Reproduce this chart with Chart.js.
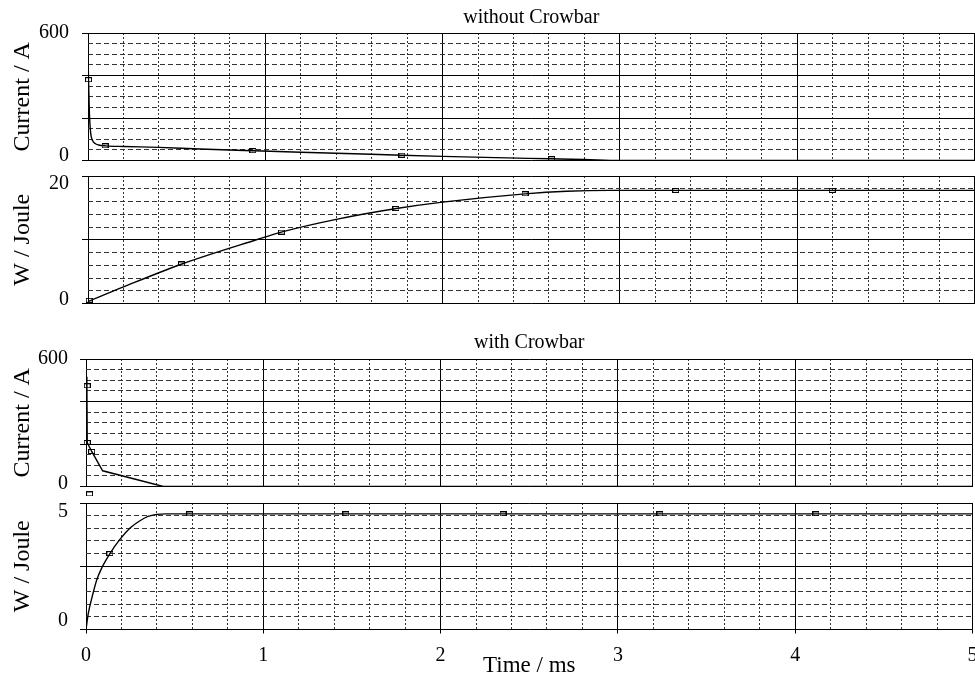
<!DOCTYPE html>
<html><head><meta charset="utf-8">
<script src="https://cdn.jsdelivr.net/npm/chart.js@4.4.1/dist/chart.umd.min.js"></script>
<style>
html,body{margin:0;padding:0;background:#fff;overflow:hidden;width:975px;height:676px;position:relative;}
canvas{position:absolute;left:0;top:0;}
</style></head><body>
<canvas id="c1" width="1000" height="700"></canvas>
<canvas id="c2" width="1000" height="700"></canvas>
<canvas id="c3" width="1000" height="700"></canvas>
<canvas id="c4" width="1000" height="700"></canvas>
<script>
// ---- shared axis data ----
const timeRange = [0, 5];          // ms
const timeLabels = [0, 1, 2, 3, 4, 5];

// ---- panel 1: without Crowbar, current ----
const tCurrentNo = [0, 0.003, 0.008, 0.015, 0.025, 0.04, 0.06, 0.1, 0.2, 0.4, 0.63, 0.93, 1.2, 1.5, 1.77, 2.0, 2.3, 2.61, 2.8, 3.0, 5.0];
const iCurrentNo = [502, 380, 220, 130, 95, 80, 73, 69, 66, 62, 54, 46, 39, 32, 25, 19.5, 13.5, 8, 4.5, 0, 0];
const tCurrentNoMarks = [0.003, 0.096, 0.93, 1.77, 2.615];
const iCurrentNoMarks = [380, 69, 46, 25, 8];

// ---- panel 2: without Crowbar, energy ----
const tEnergyNo = [0, 0.2, 0.53, 0.95, 1.09, 1.4, 1.74, 2.0, 2.465, 2.7, 2.94, 5.0];
const wEnergyNo = [0.3, 2.6, 6.2, 10.0, 11.2, 13.2, 14.9, 15.9, 17.2, 17.6, 17.75, 17.75];
const tEnergyNoMarks = [0.007, 0.528, 1.092, 1.737, 2.465, 3.315, 4.198];
const wEnergyNoMarks = [0.5, 6.2, 11.2, 14.9, 17.2, 17.75, 17.75];

// ---- panel 3: with Crowbar, current ----
const tCurrentCb = [0, 0.005, 0.007, 0.032, 0.094, 0.436, 5.0];
const iCurrentCb = [517, 474, 207, 165, 74, 0, 0];
const tCurrentCbMarks = [0.007, 0.007, 0.032, 0.02];
const iCurrentCbMarks = [474, 207, 165, -35];

// ---- panel 4: with Crowbar, energy ----
const tEnergyCb = [0, 0.013, 0.035, 0.06, 0.09, 0.135, 0.19, 0.25, 0.3, 0.35, 0.4, 0.45, 5.0];
const wEnergyCb = [0, 0.64, 1.3, 1.95, 2.45, 3.0, 3.55, 4.02, 4.28, 4.47, 4.55, 4.57, 4.57];
const tEnergyCbMarks = [0.135, 0.585, 1.466, 2.352, 3.237, 4.117];
const wEnergyCbMarks = [3.0, 4.57, 4.57, 4.57, 4.57, 4.57];

// ---- styling ----
const FONT = "'Liberation Serif', 'Times New Roman', serif";
Chart.defaults.font.family = FONT;
Chart.defaults.color = '#000';

function makeMarker() {
  const c = document.createElement('canvas');
  c.width = 7; c.height = 5;
  const g = c.getContext('2d');
  g.strokeStyle = '#000'; g.lineWidth = 1;
  g.strokeRect(0.5, 0.5, 6, 4);
  return c;
}
const markerImg = makeMarker();

const zip = (xs, ys) => xs.map((x, i) => ({x: x, y: ys[i]}));
const near = (v, step) => Math.abs(v / step - Math.round(v / step)) < 1e-6;
const TICK_SIZE = 20;

function panel(id, cfg) {
  const xMajor = 1, xStep = 0.2;
  const yMajor = cfg.yMajor, yStep = cfg.yStep;
  const [yMin, yMax] = cfg.yRange;
  new Chart(document.getElementById(id), {
    type: 'line',
    data: {
      datasets: [
        {
          data: zip(cfg.t, cfg.v),
          borderColor: '#000', borderWidth: 1.4, pointRadius: 0, fill: false,
          tension: cfg.smooth ? 0.4 : 0,
          cubicInterpolationMode: cfg.smooth ? 'monotone' : 'default'
        },
        {
          data: zip(cfg.mt, cfg.mv),
          showLine: false, pointStyle: markerImg, pointRadius: 10, pointBorderWidth: 1,
          borderColor: '#000', clip: false
        }
      ]
    },
    options: {
      responsive: false, animation: false, devicePixelRatio: 1, events: [],
      layout: {padding: cfg.pad},
      plugins: {
        legend: {display: false}, tooltip: {enabled: false},
        title: cfg.title ? {
          display: true, text: cfg.title, fullSize: false,
          font: {family: FONT, size: 20, weight: 'normal', lineHeight: 1.2},
          color: '#000', padding: {top: 0, bottom: cfg.titleGap}
        } : {display: false}
      },
      scales: {
        x: {
          type: 'linear', min: timeRange[0], max: timeRange[1],
          afterFit: s => { s.height = cfg.xHeight; },
          grid: {
            color: c => (c.tick && near(c.tick.value, xMajor)) ? '#000' : '#333',
            lineWidth: 1,
            drawTicks: cfg.showX, tickLength: 4,
            tickColor: c => (c.tick && near(c.tick.value, xMajor)) ? '#000' : 'transparent'
          },
          border: {display: false, dash: c => (c.tick && !near(c.tick.value, xMajor)) ? [2, 2] : []},
          ticks: {
            display: cfg.showX, stepSize: xStep, autoSkip: false, maxRotation: 0, padding: 10,
            font: {family: FONT, size: TICK_SIZE},
            callback: v => {
              const r = Math.round(v);
              return (Math.abs(v - r) < 1e-6 && timeLabels.includes(r)) ? String(r) : '';
            }
          },
          title: {
            display: cfg.showX, text: 'Time / ms',
            font: {family: FONT, size: 23}, padding: {top: 0, bottom: 20}
          }
        },
        y: {
          type: 'linear', min: yMin, max: yMax,
          afterFit: s => { s.width = cfg.yWidth; },
          grid: {
            color: c => (c.tick && near(c.tick.value, yMajor)) ? '#000' : '#333',
            lineWidth: 1, drawTicks: true, tickLength: 6,
            tickColor: c => (c.tick && near(c.tick.value, yMajor)) ? '#000' : 'transparent'
          },
          border: {display: false, dash: c => (c.tick && !near(c.tick.value, yMajor)) ? [5, 3] : []},
          ticks: {
            stepSize: yStep, autoSkip: false, padding: cfg.yTickPad,
            font: c => {
              // vertical nudge of the end labels, as in the reference
              const v = c.tick ? c.tick.value : null;
              let shift = 0;
              if (v === yMax) shift = cfg.shiftTop;
              else if (v === yMin) shift = cfg.shiftBottom;
              const lh = shift > 0 ? (2 * shift) + 'px' : 1.2;
              return {family: FONT, size: TICK_SIZE, lineHeight: lh};
            },
            callback: v => {
              if (v === yMax) return cfg.shiftTop > 0 ? ['', String(v)] : String(v);
              if (v === yMin) return cfg.shiftBottom > 0 ? [String(v), ''] : String(v);
              return '';
            }
          },
          title: {
            display: true, text: cfg.yTitle,
            font: {family: FONT, size: 24}, padding: {top: 8, bottom: 0}
          }
        }
      }
    }
  });
}

panel('c1', {
  t: tCurrentNo, v: iCurrentNo, mt: tCurrentNoMarks, mv: iCurrentNoMarks, smooth: true,
  title: 'without Crowbar', titleGap: 3,
  pad: {left: 0, top: 6, right: 25.5, bottom: 539.5},
  xHeight: 0, showX: false, yWidth: 88, yTickPad: 13,
  yRange: [0, 600], yMajor: 200, yStep: 50, yTitle: 'Current / A',
  shiftTop: 0, shiftBottom: 4.5
});
panel('c2', {
  t: tEnergyNo, v: wEnergyNo, mt: tEnergyNoMarks, mv: wEnergyNoMarks, smooth: true,
  title: null,
  pad: {left: 0, top: 176, right: 25.5, bottom: 396.5},
  xHeight: 0, showX: false, yWidth: 88, yTickPad: 13,
  yRange: [0, 20], yMajor: 10, yStep: 2, yTitle: 'W / Joule',
  shiftTop: 7.5, shiftBottom: 3.5
});
panel('c3', {
  t: tCurrentCb, v: iCurrentCb, mt: tCurrentCbMarks, mv: iCurrentCbMarks, smooth: false,
  title: 'with Crowbar', titleGap: 4,
  pad: {left: 0, top: 331, right: 27.5, bottom: 213.5},
  xHeight: 0, showX: false, yWidth: 86, yTickPad: 12,
  yRange: [0, 600], yMajor: 200, yStep: 50, yTitle: 'Current / A',
  shiftTop: 0, shiftBottom: 2.5
});
panel('c4', {
  t: tEnergyCb, v: wEnergyCb, mt: tEnergyCbMarks, mv: wEnergyCbMarks, smooth: true,
  title: null,
  pad: {left: 0, top: 503, right: 27.5, bottom: 0},
  xHeight: 70.5, showX: true, yWidth: 86, yTickPad: 12,
  yRange: [0, 5], yMajor: 2.5, yStep: 0.5, yTitle: 'W / Joule',
  shiftTop: 9, shiftBottom: 8.5
});
</script>
</body></html>
